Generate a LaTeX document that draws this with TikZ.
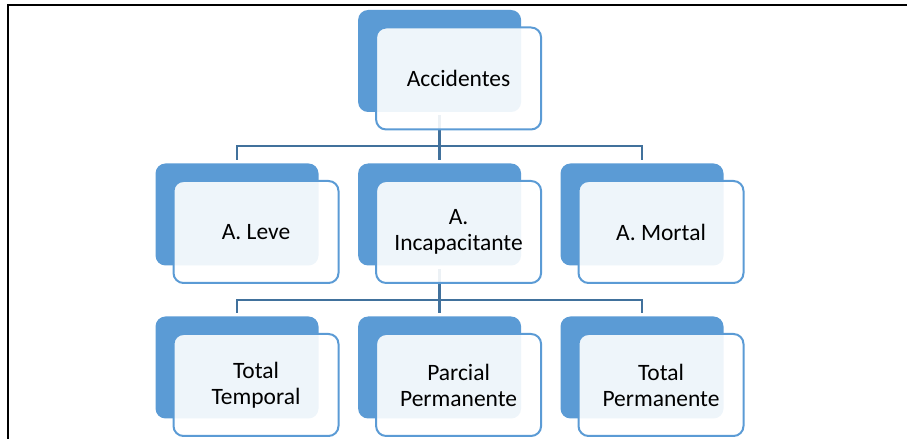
\documentclass[tikz,border=0pt]{standalone}
\usepackage{fontspec}
\setmainfont{Carlito}
\usepackage{tikz}
\definecolor{boxBlue}{HTML}{5B9BD5}
\definecolor{linkBlue}{HTML}{41719C}

\begin{document}
\begin{tikzpicture}[
    backBox/.style={rectangle, rounded corners=0.25cm, minimum width=4.075cm, minimum height=2.55cm, inner sep=0pt, fill=boxBlue},
    frontBox/.style={rectangle, rounded corners=0.25cm, minimum width=4.125cm, minimum height=2.55cm, inner sep=0pt, text centered, align=center, draw=boxBlue, line width=0.05cm, fill=white, fill opacity=0.9, text opacity=1, font=\fontsize{16.7pt}{18.5pt}\selectfont},
    link/.style={linkBlue, line width=0.065cm},
    frame/.style={black, line width=0.055cm}
]

\useasboundingbox (0,0) rectangle (22.675,10.975);
\draw[frame] (0.2,-1) rectangle (24,10.85);

% Back shapes
\node[backBox] (rootBack) at (10.99,9.45) {};
\node[backBox] (leveBack) at (5.925,5.6125) {};
\node[backBox] (incapBack) at (10.99,5.6125) {};
\node[backBox] (mortalBack) at (16.05,5.6125) {};
\node[backBox] (temporalBack) at (5.925,1.7875) {};
\node[backBox] (parcialBack) at (10.99,1.7875) {};
\node[backBox] (permanenteBack) at (16.05,1.7875) {};

% Tree lines
\coordinate (bus1) at (10.99,7.325);
\coordinate (bus2) at (10.99,3.475);
\draw[link, shorten <=0.075cm] (rootBack.south) -- (bus1);
\draw[link, shorten >=0.075cm] (bus1) -| (leveBack.north);
\draw[link, shorten >=0.075cm] (bus1) -- (incapBack.north);
\draw[link, shorten >=0.075cm] (bus1) -| (mortalBack.north);
\draw[link, shorten <=0.075cm] (incapBack.south) -- (bus2);
\draw[link, shorten >=0.075cm] (bus2) -| (temporalBack.north);
\draw[link, shorten >=0.075cm] (bus2) -- (parcialBack.north);
\draw[link, shorten >=0.075cm] (bus2) -| (permanenteBack.north);

% Front boxes
\node[frontBox] (root) at (11.465,9.0125) {Accidentes};
\node[frontBox] (leve) at (6.4,5.175) {A. Leve};
\node[frontBox] (incap) at (11.465,5.175) {A.\\Incapacitante};
\node[frontBox] (mortal) at (16.525,5.175) {A. Mortal};
\node[frontBox] (temporal) at (6.4,1.35) {Total\\Temporal};
\node[frontBox] (parcial) at (11.465,1.35) {Parcial\\Permanente};
\node[frontBox] (permanente) at (16.525,1.35) {Total\\Permanente};

\end{tikzpicture}
\end{document}
